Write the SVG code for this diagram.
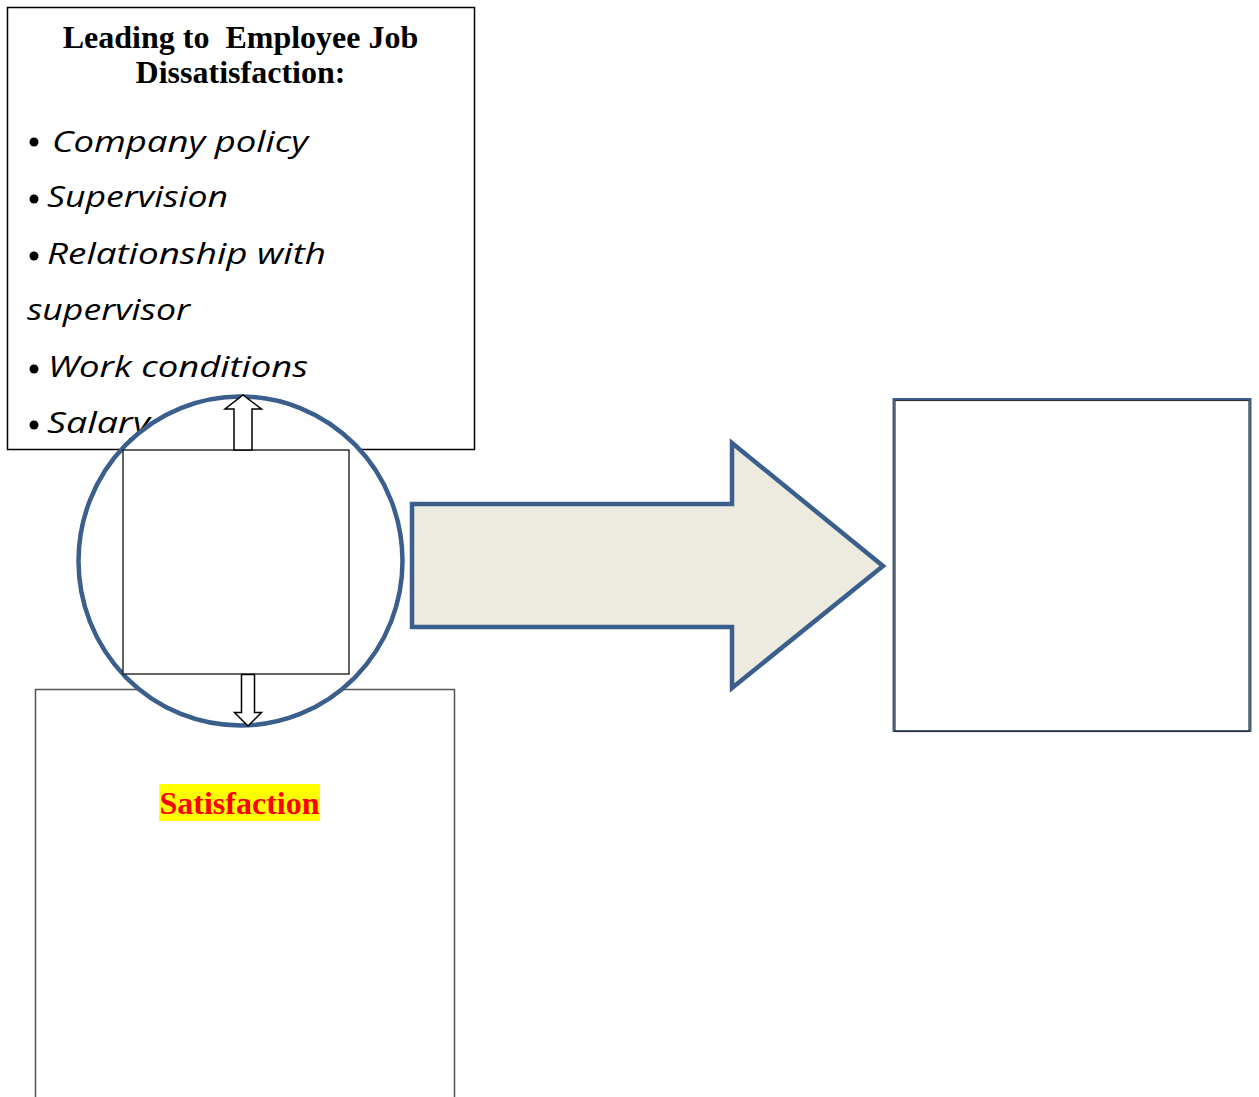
<svg xmlns="http://www.w3.org/2000/svg" width="1259" height="1097" viewBox="0 0 1259 1097">
<style>
.title{font-family:"Liberation Serif","Times New Roman",serif;font-weight:bold;font-size:32px;fill:#000}
.item{font-family:"Open Sans","DejaVu Sans",sans-serif;font-style:italic;font-size:30px;fill:#000}
.box{fill:#fff;stroke:#000;stroke-width:1.5}
.blue{stroke:#3b5f8d;stroke-width:4.5}
.small{fill:#fff;stroke:#000;stroke-width:1.5;stroke-linejoin:miter}
</style>
<rect width="1259" height="1097" fill="#fff"/>
<g id="dissatisfaction-box">
  <rect class="box" x="7.5" y="7.5" width="467" height="442"/>
  <text class="title" x="240.5" y="47.5" text-anchor="middle" xml:space="preserve">Leading to  Employee Job</text>
  <text class="title" x="240.5" y="83" text-anchor="middle">Dissatisfaction:</text>
  <circle cx="34" cy="142" r="4.5"/>
  <text class="item" x="52" y="152" textLength="256" lengthAdjust="spacingAndGlyphs">Company policy</text>
  <circle cx="34" cy="199" r="4.5"/>
  <text class="item" x="47" y="207" textLength="181" lengthAdjust="spacingAndGlyphs">Supervision</text>
  <circle cx="34" cy="256" r="4.5"/>
  <text class="item" x="47" y="264" textLength="279" lengthAdjust="spacingAndGlyphs">Relationship with</text>
  <text class="item" x="27" y="320" textLength="163" lengthAdjust="spacingAndGlyphs">supervisor</text>
  <circle cx="34" cy="369" r="4.5"/>
  <text class="item" x="48" y="377" textLength="260" lengthAdjust="spacingAndGlyphs">Work conditions</text>
  <circle cx="34" cy="425" r="4.5"/>
  <text class="item" x="47" y="433" textLength="103" lengthAdjust="spacingAndGlyphs">Salary</text>
</g>
<g id="satisfaction-box">
  <rect x="35.5" y="689.5" width="419" height="420" fill="#fff" stroke="#555" stroke-width="1.5"/>
  <rect x="159" y="784" width="161" height="37" fill="#ffff00"/>
  <text x="239.5" y="814" text-anchor="middle" font-family="'Liberation Serif','Times New Roman',serif" font-weight="bold" font-size="32" fill="#ff0000">Satisfaction</text>
</g>
<g id="circle-node">
  <ellipse class="blue" cx="240.5" cy="561" rx="162" ry="164.5" fill="#fff"/>
  <rect x="123" y="450" width="226" height="224" fill="#fff" stroke="#111" stroke-width="1.3"/>
</g>
<g id="right-box">
  <rect x="893.5" y="399" width="357" height="332" fill="#fff" stroke="#3b5f8d" stroke-width="2"/>
  <rect x="895" y="400.5" width="354" height="331" fill="none" stroke="#333" stroke-width="1.2"/>
</g>
<g id="connectors">
  <path class="small" d="M234,450 V409 H225 L243,395 L261.5,409 H252 V450 Z"/>
  <path class="small" d="M241.5,674.5 V712.5 H234.5 L248,726 L261.5,712.5 H254.5 V674.5 Z"/>
  <path class="blue" fill="#edeadf" stroke-linejoin="miter" d="M412,504 H732 V443 L883,566 L732,688 V627 H412 Z"/>
</g>
</svg>
